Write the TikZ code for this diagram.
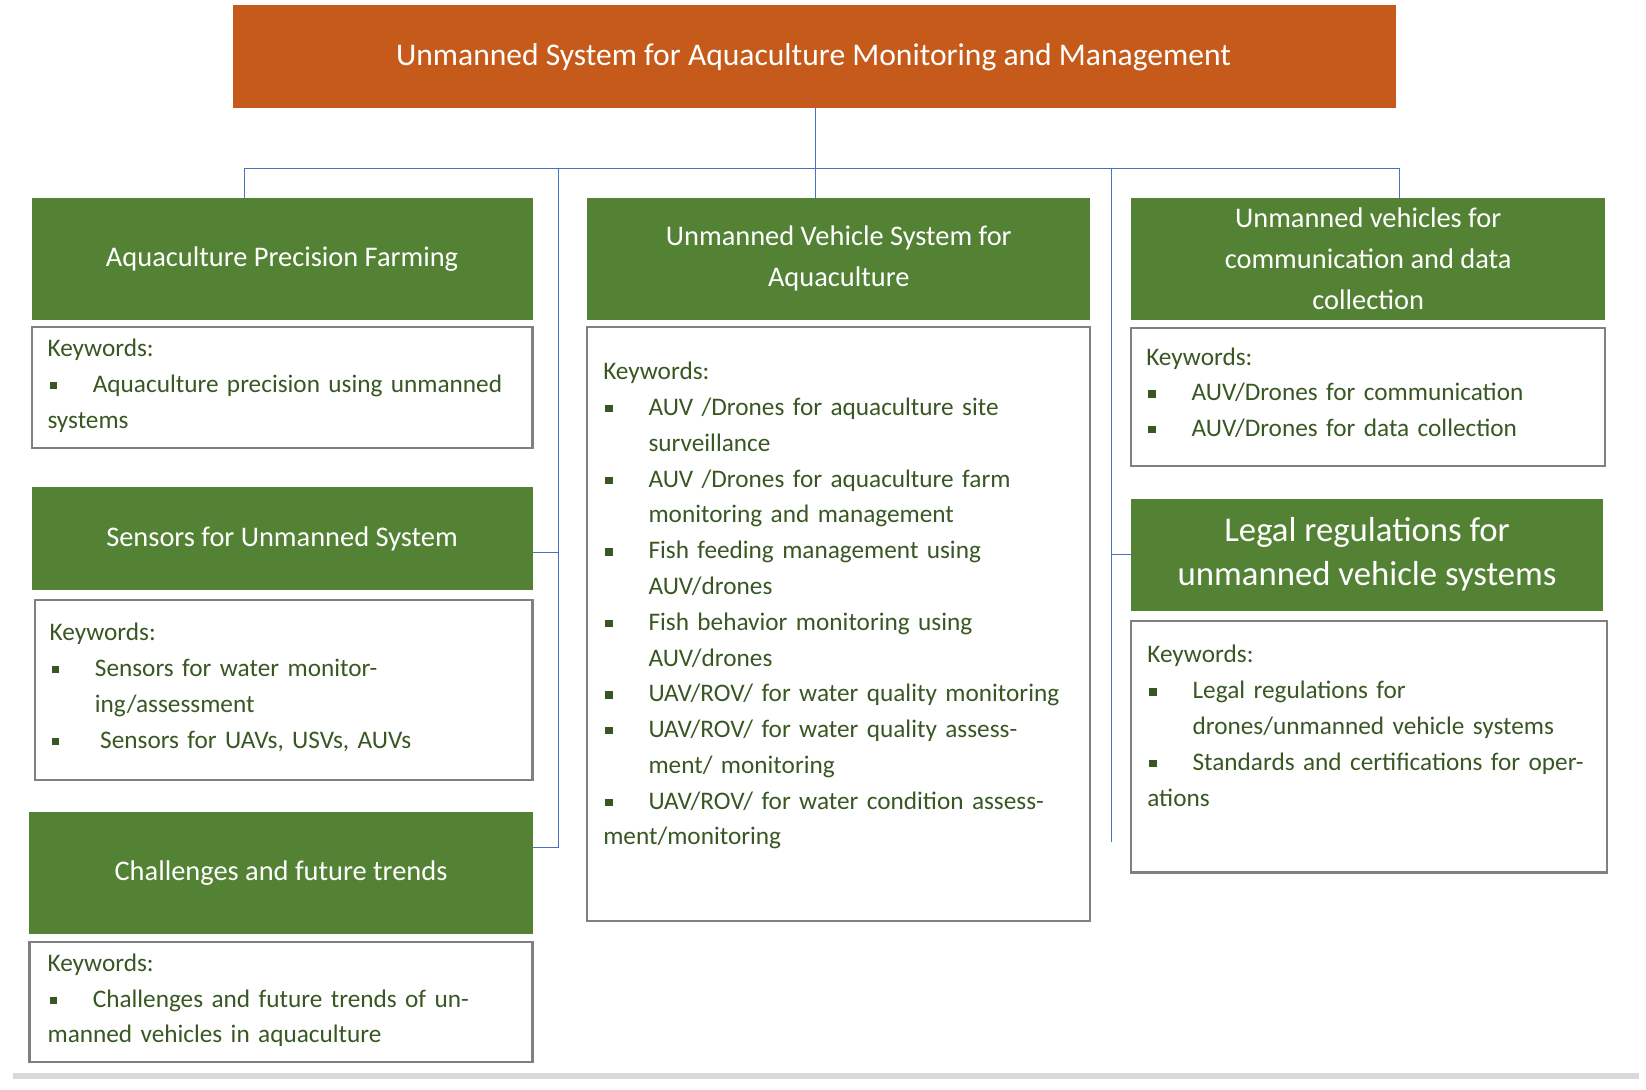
\documentclass[tikz,border=0pt]{standalone}
\usepackage{fontspec}
\setmainfont{Carlito}
\usetikzlibrary{positioning}
\definecolor{titleorange}{HTML}{C55A1A}
\definecolor{headgreen}{HTML}{548235}
\definecolor{linkblue}{HTML}{4472C4}
\definecolor{kwgreen}{HTML}{385723}
\newcommand\itm[1]{\par\hangindent=43pt\hangafter=1\noindent\makebox[43pt][l]{\hspace{2pt}\raisebox{3pt}{\rule{7pt}{7pt}}}#1}
\tikzset{
  headbox/.style={fill=headgreen,text=white,font=\fontsize{27}{39}\selectfont,align=center,inner sep=0pt},
  kwbox/.style={draw=black!50,line width=2pt},
  kwtext/.style={anchor=north west,text=kwgreen,font=\fontsize{24}{34}\selectfont,inner sep=0pt,align=left},
  link/.style={draw=linkblue,line width=1.2pt}
}
\begin{document}
\begin{tikzpicture}[x=1pt,y=-1pt]
\useasboundingbox (0,0) rectangle (1564,1035);
% title
\fill[titleorange] (221,5) rectangle (1326,103);
\node[text=white,font=\fontsize{30}{36}\selectfont] (title) at (773,54) {Unmanned System for Aquaculture Monitoring and Management};
% connectors
\coordinate (tb) at (775,103);
\draw[link] (tb) -- (775,188);
\draw[link] (232,188) -- (232,160) -- (1330,160) -- (1330,210);
\draw[link] (531,160) -- (531,805) -- (506,805);
\draw[link] (531,525) -- (506,525);
\draw[link] (1056,160) -- (1056,800);
\draw[link] (1056,527) -- (1085,527);
% left column
\fill[headgreen] (30,188) rectangle (506,304);
\node[headbox] (apf) at (268,246) {Aquaculture Precision Farming};
\draw[kwbox] (30,311) rectangle (506,426);
\node[kwtext,text width=440pt] (apfk) at (45,322) {Keywords:\itm{Aquaculture precision using unmanned systems}};
\fill[headgreen] (30,463) rectangle (506,561);
\node[headbox] (sus) at (268,512) {Sensors for Unmanned System};
\draw[kwbox] (33,570) rectangle (506,741);
\node[kwtext,text width=440pt] (susk) at (47,592) {Keywords:\itm{Sensors for water monitoring/assessment}\itm{\hspace{5pt}Sensors for UAVs, USVs, AUVs}};
\fill[headgreen] (28,772) rectangle (506,887);
\node[headbox] (cft) at (267,830) {Challenges and future trends};
\draw[kwbox] (28,895) rectangle (506,1009);
\node[kwtext,text width=445pt] (cftk) at (45,906) {Keywords:\itm{Challenges and future trends of unmanned vehicles in aquaculture}};
% middle column
\fill[headgreen] (558,188) rectangle (1036,304);
\node[headbox] (uvs) at (797,246) {Unmanned Vehicle System for\\Aquaculture};
\draw[kwbox] (558,311) rectangle (1036,875);
\node[kwtext,text width=445pt] (uvsk) at (573,344) {Keywords:\itm{AUV /Drones for aquaculture site surveillance}\itm{AUV /Drones for aquaculture farm monitoring and management}\itm{Fish feeding management using AUV/drones}\itm{Fish behavior monitoring using AUV/drones}\itm{UAV/ROV/ for water quality monitoring}\itm{UAV/ROV/ for water quality assessment/ monitoring}\itm{UAV/ROV/ for water condition assessment/monitoring}};
% right column
\fill[headgreen] (1075,188) rectangle (1525,304);
\node[headbox] (ucd) at (1300,246) {Unmanned vehicles for\\communication and data\\collection};
\draw[kwbox] (1075,312) rectangle (1525,443);
\node[kwtext,text width=420pt] (ucdk) at (1089,330) {Keywords:\itm{AUV/Drones for communication}\itm{AUV/Drones for data collection}};
\fill[headgreen] (1075,474) rectangle (1523,581);
\node[headbox,font=\fontsize{33}{42}\selectfont] (lrv) at (1299,527) {Legal regulations for\\unmanned vehicle systems};
\draw[kwbox] (1075,590) rectangle (1527,829);
\node[kwtext,text width=420pt] (lrvk) at (1090,613) {Keywords:\itm{Legal regulations for drones/unmanned vehicle systems}\itm{Standards and certifications for operations}};
% bottom rule
\fill[black!15] (12,1020) rectangle (1557,1025);
\end{tikzpicture}
\end{document}
